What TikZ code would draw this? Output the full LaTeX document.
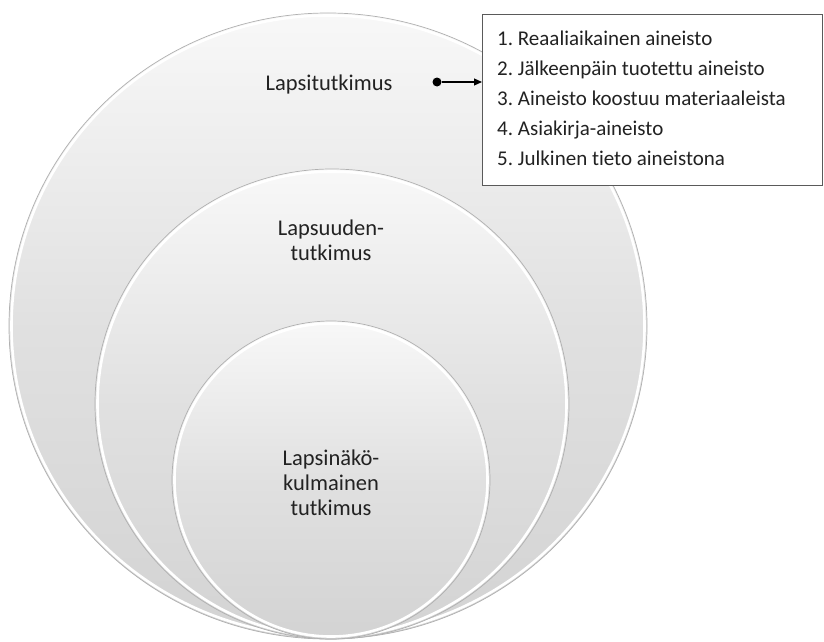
\documentclass[tikz,border=0pt]{standalone}
\usepackage{fontspec}
\setmainfont{Carlito}[Ligatures=NoCommon]
\usetikzlibrary{arrows.meta}
\frenchspacing
\definecolor{rimgray}{HTML}{B0B0B0}
\definecolor{toptone}{HTML}{F8F8F8}
\definecolor{lowtone}{HTML}{D3D3D3}
\definecolor{inkgray}{HTML}{222222}
\definecolor{boxline}{HTML}{5A5A5A}
\tikzset{
  disc/.style={top color=toptone, bottom color=lowtone, middle color=white!88!black, draw=rimgray, line width=0.7pt},
  rim/.style={draw=white, line width=2.6pt},
  ringlabel/.style={font=\fontsize{22.5}{25}\selectfont, text=inkgray, align=center, inner sep=0pt},
  listline/.style={font=\fontsize{21}{25}\selectfont, text=inkgray, anchor=base west, inner sep=0pt},
}
\begin{document}
\begin{tikzpicture}[x=1pt,y=-1pt]
  \useasboundingbox (0,0) rectangle (824,642);
  \fill[white] (0,0) rectangle (824,642);

  % three stacked discs, all resting on the same bottom point
  \path[disc] (328,326) ellipse [x radius=319, y radius=313];
  \draw[rim] (328,326) ellipse [x radius=316.5, y radius=310.5];
  \path[disc] (332,404) ellipse [x radius=237, y radius=235];
  \draw[rim] (332,404) ellipse [x radius=234.5, y radius=232.5];
  \path[disc] (331,480) ellipse [x radius=159, y radius=159];
  \draw[rim] (331,480) ellipse [x radius=156.5, y radius=156.5];

  % labels of the discs
  \node[ringlabel] (outer) at (329,85) {Lapsitutkimus};
  \node[ringlabel] (middle) at (331,240) {Lapsuuden-\\tutkimus};
  \node[ringlabel] (inner) at (331,483) {Lapsinäkö-\\kulmainen\\tutkimus};

  % list of material types
  \node[draw=boxline, line width=1pt, fill=white, anchor=north west,
        minimum width=340pt, minimum height=171pt, inner sep=0pt] (box) at (482,14) {};
  \node[listline] (l1) at (497,46) {1. Reaaliaikainen aineisto};
  \node[listline] (l2) at (497,75) {2. Jälkeenpäin tuotettu aineisto};
  \node[listline] (l3) at (497,105) {3. Aineisto koostuu materiaaleista};
  \node[listline] (l4) at (497,135) {4. Asiakirja-aineisto};
  \node[listline] (l5) at (497,165) {5. Julkinen tieto aineistona};

  % connector from the outer label to the list
  \node[circle, fill=black, inner sep=0pt, minimum size=9pt] (dot) at (437,82) {};
  \draw[line width=1.1pt, -{Triangle[length=8pt,width=7pt]}] (dot) -- (dot -| box.west);
\end{tikzpicture}
\end{document}
